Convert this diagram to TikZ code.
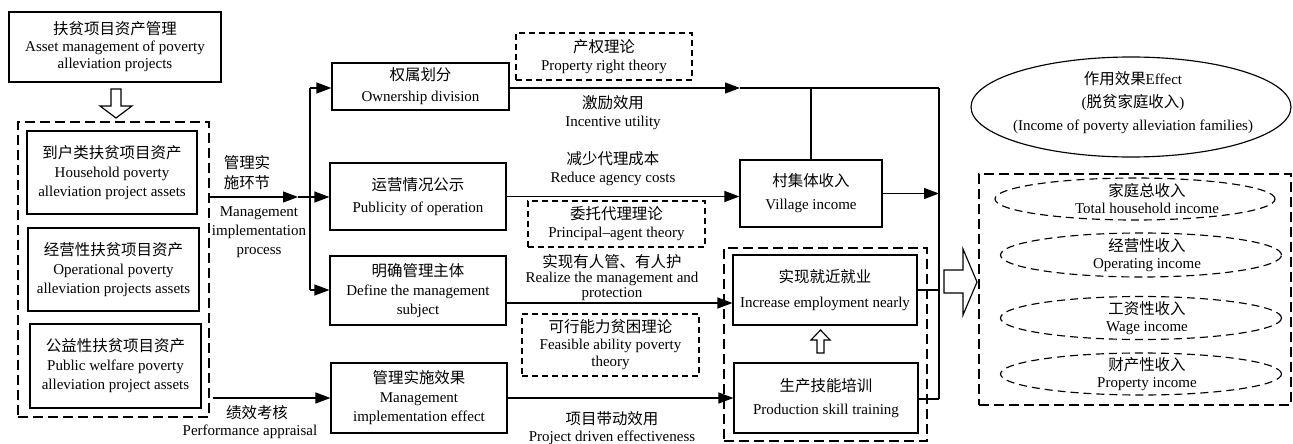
\documentclass[tikz,border=0pt]{standalone}
\usepackage{fontspec}
\setmainfont{Liberation Serif}
\newfontfamily\cjk[Scale=1.03]{Noto Sans CJK SC}
\usetikzlibrary{arrows.meta,shapes.geometric}
\newcommand\zh[1]{{\cjk #1}}
\newcommand\fs{\fontsize{15}{19}\selectfont}
\begin{document}
\begin{tikzpicture}[x=1pt,y=-1pt,line width=1.15pt,
  box/.style={draw,inner sep=0pt,align=center,font=\fs},
  dbox/.style={draw,dash pattern=on 6pt off 4pt,inner sep=0pt,align=center,font=\fs},
  gbox/.style={draw,dash pattern=on 10pt off 5pt,inner sep=0pt},
  dell/.style={draw,ellipse,dash pattern=on 8pt off 5pt,inner sep=0pt},
  lbl/.style={inner sep=0pt,align=center,font=\fs},
  arr/.style={-{Triangle[length=15pt,width=11pt]}},
  hollow/.style={draw,fill=white,line join=miter}]
\useasboundingbox (0,0) rectangle (1293,444);

% left column
\node[box,minimum width=212pt,minimum height=70pt] (top) at (115,47)
  {\zh{扶贫项目资产管理}\\[-2pt]Asset management of poverty\\[-2pt]alleviation projects};
\node[gbox,minimum width=191pt,minimum height=295pt] (outer) at (113.5,269.5) {};
\node[box,minimum width=170pt,minimum height=83pt] (b1) at (112,172.5)
  {\zh{到户类扶贫项目资产}\\Household poverty\\alleviation project assets};
\node[box,minimum width=171pt,minimum height=83pt] (b2) at (113.5,269.5)
  {\zh{经营性扶贫项目资产}\\Operational poverty\\alleviation projects assets};
\node[box,minimum width=171pt,minimum height=84pt] (b3) at (115.5,366)
  {\zh{公益性扶贫项目资产}\\Public welfare poverty\\alleviation project assets};
\draw[hollow] (111,89) -- (121,89) -- (121,106) -- (132,106) -- (116,118) -- (100,106) -- (111,106) -- cycle;

% labels near left
\node[lbl] (mip1) at (247,173) {\zh{管理实}\\[1pt]\zh{施环节}};
\node[lbl] (mip2) at (259,232) {Management\\implementation\\process};
\node[lbl] (pa1) at (257,413) {\zh{绩效考核}};
\node[lbl] (pa2) at (250,432) {Performance appraisal};

% middle column
\node[box,minimum width=177pt,minimum height=47pt] (own) at (420.5,86.5)
  {\zh{权属划分}\\[2pt]Ownership division};
\node[box,minimum width=176pt,minimum height=67pt] (pub) at (418,196.5)
  {\zh{运营情况公示}\\[3pt]Publicity of operation};
\node[box,minimum width=176pt,minimum height=69pt] (def) at (418,290.5)
  {\zh{明确管理主体}\\Define the management\\subject};
\node[box,minimum width=176pt,minimum height=70pt] (eff) at (419,398)
  {\zh{管理实施效果}\\Management\\implementation effect};

\node[dbox,minimum width=176pt,minimum height=47pt] (prt) at (604,56.5)
  {\zh{产权理论}\\[-1pt]Property right theory};
\node[dbox,minimum width=177pt,minimum height=46pt] (pat) at (616.5,224)
  {\zh{委托代理理论}\\[-1pt]Principal--agent theory};
\node[dbox,minimum width=177pt,minimum height=62pt] (fat) at (610.5,345)
  {\zh{可行能力贫困理论}\\[-2pt]Feasible ability poverty\\[-2pt]theory};

\node[lbl] (inc) at (613,113) {\zh{激励效用}\\[-1pt]Incentive utility};
\node[lbl] (rac) at (613,169) {\zh{减少代理成本}\\[-1pt]Reduce agency costs};
\node[lbl,font=\fontsize{15}{15}\selectfont] (rmp) at (612,278)
  {\zh{实现有人管、有人护}\\Realize the management and\\protection};
\node[lbl] (pde) at (612,428) {\zh{项目带动效用}\\[-2pt]Project driven effectiveness};

% right-middle column
\node[box,minimum width=142pt,minimum height=67pt] (vil) at (811,193.5)
  {\zh{村集体收入}\\[4pt]Village income};
\node[gbox,minimum width=203pt,minimum height=193pt] (grp) at (825.5,344.5) {};
\node[box,minimum width=184pt,minimum height=70pt] (emp) at (825,290)
  {\zh{实现就近就业}\\[6pt]Increase employment nearly};
\node[box,minimum width=184pt,minimum height=70pt] (trn) at (826,398)
  {\zh{生产技能培训}\\[4pt]Production skill training};
\draw[hollow] (817,353) -- (824,353) -- (824,340) -- (830,340) -- (820.5,330) -- (811,340) -- (817,340) -- cycle;

% right column
\node[draw,ellipse,minimum width=320pt,minimum height=100pt,inner sep=0pt] (effect) at (1131,107) {};
\node[lbl] (effectt) at (1133,103)
  {\zh{作用效果}Effect\\[4pt](\zh{脱贫家庭收入})\\[4pt](Income of poverty alleviation families)};
\node[gbox,minimum width=312pt,minimum height=231pt] (incbox) at (1135,289.5) {};
\node[dell,minimum width=280pt,minimum height=42pt] (e1) at (1135,199) {};
\node[dell,minimum width=281pt,minimum height=44pt] (e2) at (1141,255) {};
\node[dell,minimum width=281pt,minimum height=43pt] (e3) at (1141,318) {};
\node[dell,minimum width=281pt,minimum height=42pt] (e4) at (1141,374) {};
\node[lbl] (t1) at (1147,199) {\zh{家庭总收入}\\[-2pt]Total household income};
\node[lbl] (t2) at (1147,255) {\zh{经营性收入}\\[-2pt]Operating income};
\node[lbl] (t3) at (1147,318) {\zh{工资性收入}\\[-2pt]Wage income};
\node[lbl] (t4) at (1147,374) {\zh{财产性收入}\\[-2pt]Property income};
\draw[hollow] (944,270) -- (963,270) -- (963,249) -- (977,282) -- (963,315) -- (963,293) -- (944,293) -- cycle;

% connectors
\coordinate (j) at (310,197);
\coordinate (ja) at (298,197);
\coordinate (jt) at (310,88);
\coordinate (jb) at (310,290);
\draw[arr] (outer.east |- j) -- (ja);
\draw (ja) -- (j);
\draw (jt) -- (jb);
\draw[arr] (jt) -- (own.west |- jt);
\draw[arr] (j) -- (pub.west |- j);
\draw[arr] (jb) -- (def.west |- jb);
\draw[arr] ([xshift=3pt]outer.east |- eff) -- (eff.west);

\coordinate (tr) at (939,88);
\coordinate (ta) at (740,88);
\coordinate (br) at (939,399);
\draw[arr] (own.east |- ta) -- (ta);
\draw (ta) -- (tr);
\draw (vil.north) -- (vil.north |- tr);
\draw (tr) -- (br);
\draw[arr] (pub.east) -- (vil.west |- pub.east);
\draw[arr] (vil.east) -- (vil.east -| tr);
\draw[arr] (def.east |- 0,303) -- (emp.west |- 0,303);
\draw[arr] (eff.east) -- (trn.west);
\draw (emp.east) -- (emp.east -| tr);
\draw (trn.east |- br) -- (br);
\end{tikzpicture}
\end{document}
